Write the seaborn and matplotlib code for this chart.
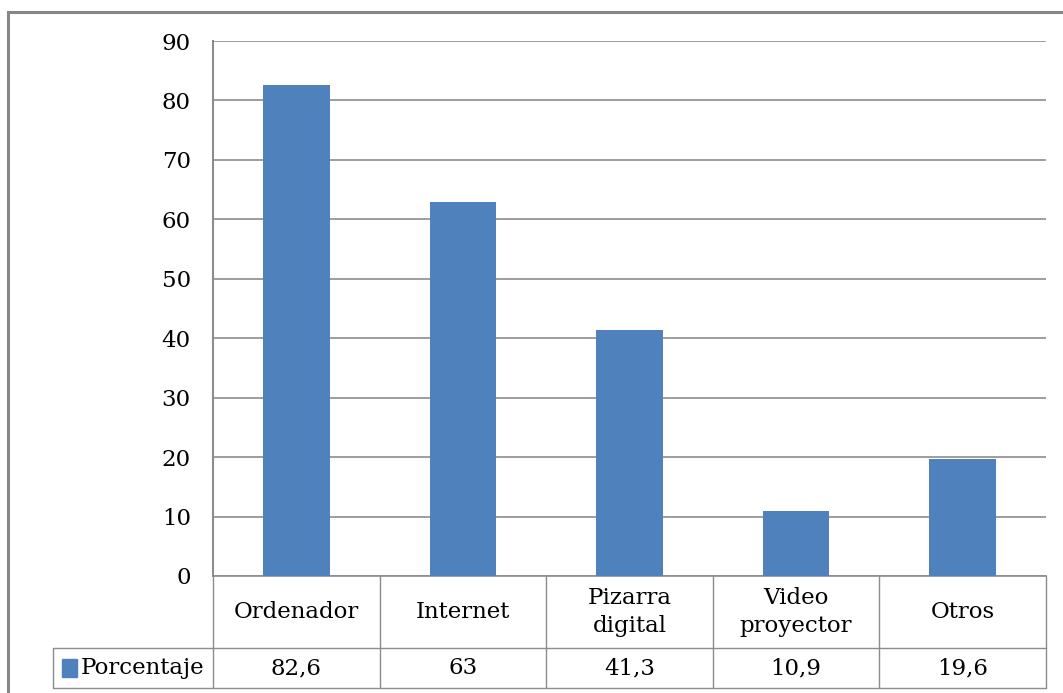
import matplotlib.pyplot as plt
import matplotlib.patches as mpatches
import seaborn as sns
import pandas as pd

# data
categorias = ["Ordenador", "Internet", "Pizarra\ndigital", "Video\nproyector", "Otros"]
porcentaje = [82.6, 63, 41.3, 10.9, 19.6]
etiquetas_valor = ["82,6", "63", "41,3", "10,9", "19,6"]
serie = "Porcentaje"

BLUE = "#4F81BD"
GRID = "#8C8C8C"
W, H = 1063, 693
FS = 16.5

sns.set_theme(style="white")
plt.rcParams["font.family"] = ["DejaVu Serif", "Liberation Serif"]
plt.rcParams["text.color"] = "black"
plt.rcParams["ytick.color"] = "black"

df = pd.DataFrame({"categoria": categorias, "valor": porcentaje})

fig = plt.figure(figsize=(W / 100, H / 100), dpi=100)
fig.patch.set_facecolor("white")

# plot area in pixels: x 213..1046, y 41..576
x0, x1, y0, y1 = 213, 1046, 41, 576
ax = fig.add_axes([x0 / W, 1 - y1 / H, (x1 - x0) / W, (y1 - y0) / H])

sns.barplot(data=df, x="categoria", y="valor", color=BLUE, width=0.4,
            saturation=1, linewidth=0, ax=ax, zorder=3)
ax.set_xlim(-0.5, len(categorias) - 0.5)
ax.set_ylim(0, 90)
ax.set_yticks(range(0, 91, 10))
ax.yaxis.grid(True, color=GRID, linewidth=1.2, zorder=0)
ax.set_xlabel("")
ax.set_ylabel("")
ax.set_xticks([])
ax.tick_params(axis="y", length=0, pad=16, labelsize=FS, labelcolor="black")
for s in ["top", "right"]:
    ax.spines[s].set_visible(False)
ax.spines["left"].set_color(GRID)
ax.spines["left"].set_linewidth(1.5)
ax.spines["bottom"].set_color(GRID)
ax.spines["bottom"].set_linewidth(1.2)

# data table below the plot area
tr = ax.get_xaxis_transform()
ax_h = y1 - y0
fila1 = -(648 - y1) / ax_h
fila2 = -(688 - y1) / ax_h
leg_x = -0.5 - (x0 - 53) / ((x1 - x0) / len(categorias))
n = len(categorias)
lw = 1.0
for i in range(n + 1):
    ax.plot([i - 0.5, i - 0.5], [0, fila2], color=GRID, lw=lw,
            transform=tr, clip_on=False)
ax.plot([-0.5, n - 0.5], [fila1, fila1], color=GRID, lw=lw, transform=tr, clip_on=False)
ax.plot([leg_x, -0.5], [fila1, fila1], color=GRID, lw=lw, transform=tr, clip_on=False)
ax.plot([leg_x, n - 0.5], [fila2, fila2], color=GRID, lw=lw, transform=tr, clip_on=False)
ax.plot([leg_x, leg_x], [fila1, fila2], color=GRID, lw=lw, transform=tr, clip_on=False)

for i, (c, v) in enumerate(zip(categorias, etiquetas_valor)):
    ax.text(i, fila1 / 2, c, transform=tr, ha="center", va="center",
            fontsize=FS, linespacing=1.3, color="black", clip_on=False)
    ax.text(i, (fila1 + fila2) / 2, v, transform=tr, ha="center", va="center",
            fontsize=FS, color="black", clip_on=False)

# legend key inside the first cell
fig.patches.append(mpatches.Rectangle((62 / W, 1 - 677 / H), 15 / W, 18 / H,
                                      transform=fig.transFigure, color=BLUE))
fig.text(81 / W, 1 - 668 / H, serie, ha="left", va="center", fontsize=FS,
         color="black")

# outer chart border
fig.patches.append(mpatches.Rectangle((8 / W, -0.05), 1.2, 1 - 12 / H + 0.05,
                                      transform=fig.transFigure, fill=False,
                                      edgecolor="#878787", linewidth=2.2))

fig.savefig("out.png", dpi=100)
